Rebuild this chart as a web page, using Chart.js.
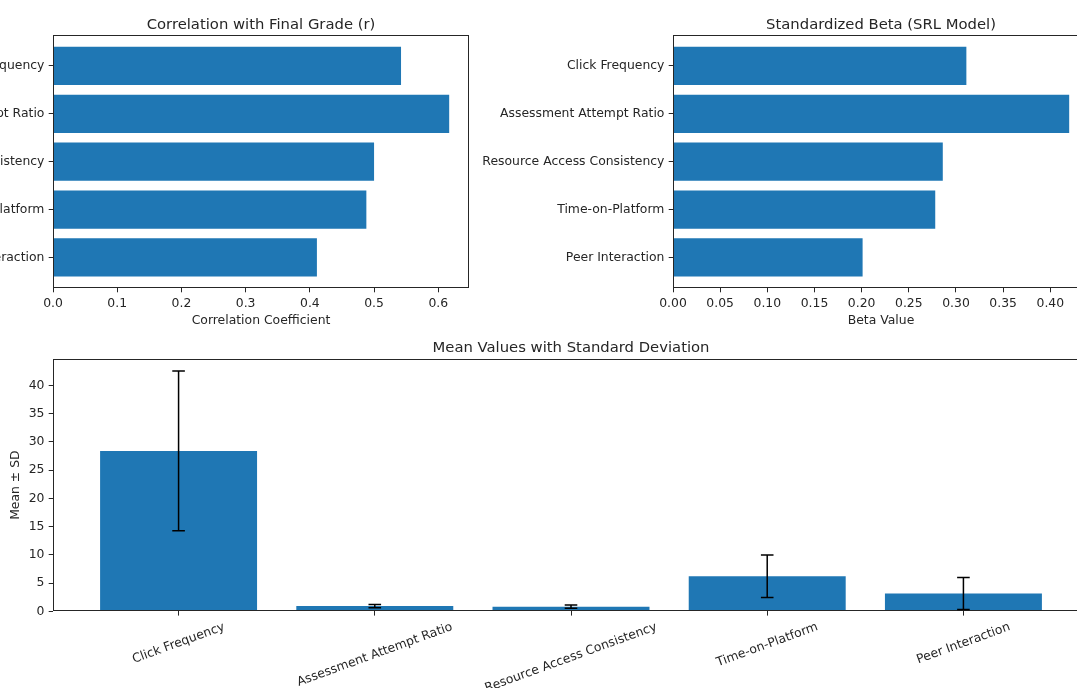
<!DOCTYPE html>
<html>
<head>
<meta charset="utf-8">
<title>SRL feature summary</title>
<script src="https://cdn.jsdelivr.net/npm/chart.js@4.4.0/dist/chart.umd.min.js"></script>
<style>
  html, body { margin: 0; padding: 0; background: #fff; overflow: hidden; width: 1077px; height: 688px; }
  canvas { position: absolute; }
</style>
</head>
<body>
<canvas id="corr" width="490" height="330" style="left:0px;top:0px"></canvas>
<canvas id="beta" width="630" height="330" style="left:470px;top:0px"></canvas>
<canvas id="mean" width="1100" height="358" style="left:0px;top:330px"></canvas>
<script>
// ---- data ----
const features = ['Click Frequency', 'Assessment Attempt Ratio', 'Resource Access Consistency', 'Time-on-Platform', 'Peer Interaction'];
const correlations = [0.542, 0.617, 0.500, 0.488, 0.411];
const betas = [0.311, 0.420, 0.286, 0.278, 0.201];
const means = [28.4, 0.93, 0.82, 6.2, 3.15];
const sds = [14.15, 0.28, 0.28, 3.75, 2.85];

const corrTicks = [0, 0.1, 0.2, 0.3, 0.4, 0.5, 0.6];
const betaTicks = [0, 0.05, 0.10, 0.15, 0.20, 0.25, 0.30, 0.35, 0.40];
const meanTicks = [0, 5, 10, 15, 20, 25, 30, 35, 40];

// ---- styling ----
const FONT = "'DejaVu Sans', 'Liberation Sans', sans-serif";
const INK = '#262626';
const BAR = '#1f77b4';
const LABEL_SIZE = 12.4;
const TITLE_SIZE = 14.8;
const TICK_LEN = 4.3;

Chart.defaults.font.family = FONT;
Chart.defaults.font.size = LABEL_SIZE;
Chart.defaults.color = INK;

// category positions with a 5% margin around bars of width 0.8
const barWidth = 0.8;
const catSpan = (features.length - 1) + barWidth;
const catMin = -barWidth / 2 - 0.05 * catSpan;
const catMax = features.length - 1 + barWidth / 2 + 0.05 * catSpan;
const catIndex = features.map((_, i) => i);

const fixedTicks = values => axis => { axis.ticks = values.map(v => ({ value: v })); };

const tickGrid = { display: true, offset: false, drawOnChartArea: false, drawTicks: true, tickLength: TICK_LEN, color: INK, lineWidth: 1 };

// full box around the plotting area
const framePlugin = {
  id: 'frame',
  afterDatasetsDraw(chart) {
    const { ctx, chartArea: a } = chart;
    const l = Math.round(a.left) + 0.5, t = Math.round(a.top) + 0.5;
    const r = Math.round(a.right) - 0.5, b = Math.round(a.bottom) - 0.5;
    ctx.save();
    ctx.strokeStyle = INK;
    ctx.lineWidth = 1;
    ctx.strokeRect(l, t, r - l, b - t);
    ctx.restore();
  }
};

const titleOpts = (text, top, bottom) => ({
  display: true, text, fullSize: false, color: INK,
  font: { size: TITLE_SIZE, family: FONT, weight: 'normal' },
  padding: { top, bottom }
});

function horizontalBars(id, values, title, xTitle, xTicks, digits, yWidth, padRight) {
  return new Chart(document.getElementById(id), {
    type: 'bar',
    data: {
      datasets: [{
        data: values.map((v, i) => ({ x: v, y: i })),
        backgroundColor: BAR,
        borderWidth: 0,
        categoryPercentage: barWidth,
        barPercentage: 1
      }]
    },
    options: {
      indexAxis: 'y',
      responsive: false,
      animation: false,
      layout: { padding: { left: 0, right: padRight, top: 0, bottom: 0 } },
      plugins: {
        legend: { display: false },
        tooltip: { enabled: false },
        title: titleOpts(title, 16.2, 1.4)
      },
      scales: {
        x: {
          type: 'linear',
          offset: false,
          min: 0,
          max: Math.max(...values) * 1.05,
          afterBuildTicks: fixedTicks(xTicks),
          ticks: { callback: v => Number(v).toFixed(digits), padding: 3.6, maxRotation: 0, autoSkip: false },
          grid: tickGrid,
          border: { display: false },
          title: { display: true, text: xTitle, color: INK, font: { size: LABEL_SIZE }, padding: { top: 0, bottom: 2 } },
          afterFit: s => { s.height = 42; }
        },
        y: {
          type: 'linear',
          offset: false,
          reverse: true,
          min: catMin,
          max: catMax,
          afterBuildTicks: fixedTicks(catIndex),
          ticks: { callback: v => features[v], padding: 4.3, autoSkip: false },
          grid: tickGrid,
          border: { display: false },
          afterFit: s => { s.width = yWidth; }
        }
      }
    },
    plugins: [framePlugin]
  });
}

horizontalBars('corr', correlations, 'Correlation with Final Grade (r)', 'Correlation Coefficient', corrTicks, 1, 53, 21);
horizontalBars('beta', betas, 'Standardized Beta (SRL Model)', 'Beta Value', betaTicks, 2, 203, 11);

// mean ± SD error bars drawn through the chart's own scales
const errorBarPlugin = {
  id: 'errorBars',
  afterDatasetsDraw(chart) {
    const { ctx, scales: { x, y } } = chart;
    const cap = 6.3;
    ctx.save();
    ctx.strokeStyle = '#000';
    ctx.lineWidth = 1.5;
    means.forEach((m, i) => {
      const cx = x.getPixelForValue(i);
      const hi = y.getPixelForValue(m + sds[i]);
      const lo = y.getPixelForValue(m - sds[i]);
      ctx.beginPath();
      ctx.moveTo(cx, hi); ctx.lineTo(cx, lo);
      ctx.moveTo(cx - cap, hi); ctx.lineTo(cx + cap, hi);
      ctx.moveTo(cx - cap, lo); ctx.lineTo(cx + cap, lo);
      ctx.stroke();
    });
    ctx.restore();
  }
};

// category names under the x axis, slanted and centred on their ticks
const slantedLabels = {
  id: 'slantedLabels',
  afterDraw(chart) {
    const { ctx, scales: { x }, chartArea } = chart;
    const ang = 20 * Math.PI / 180;
    const textH = LABEL_SIZE * 1.16;
    const top = chartArea.bottom + TICK_LEN + 4.3;
    ctx.save();
    ctx.font = `${LABEL_SIZE}px ${FONT}`;
    ctx.fillStyle = INK;
    ctx.textAlign = 'center';
    ctx.textBaseline = 'middle';
    features.forEach((label, i) => {
      const w = ctx.measureText(label).width;
      const boxH = w * Math.sin(ang) + textH * Math.cos(ang);
      ctx.save();
      ctx.translate(x.getPixelForValue(i), top + boxH / 2);
      ctx.rotate(-ang);
      ctx.fillText(label, 0, 0);
      ctx.restore();
    });
    ctx.restore();
  }
};

new Chart(document.getElementById('mean'), {
  type: 'bar',
  data: {
    datasets: [{
      data: means.map((m, i) => ({ x: i, y: m })),
      backgroundColor: BAR,
      borderWidth: 0,
      categoryPercentage: barWidth,
      barPercentage: 1
    }]
  },
  options: {
    responsive: false,
    animation: false,
    layout: { padding: { left: 0, right: 11, top: 0, bottom: 0 } },
    plugins: {
      legend: { display: false },
      tooltip: { enabled: false },
      title: titleOpts('Mean Values with Standard Deviation', 9.1, 2.1)
    },
    scales: {
      x: {
        type: 'linear',
        offset: false,
        min: catMin,
        max: catMax,
        afterBuildTicks: fixedTicks(catIndex),
        ticks: { display: false },
        grid: tickGrid,
        border: { display: false },
        afterFit: s => { s.height = 76.7; }
      },
      y: {
        type: 'linear',
        offset: false,
        min: 0,
        max: Math.max(...means.map((m, i) => m + sds[i])) * 1.05,
        afterBuildTicks: fixedTicks(meanTicks),
        ticks: { callback: v => String(v), padding: 4.3, autoSkip: false },
        grid: tickGrid,
        border: { display: false },
        title: { display: true, text: 'Mean ± SD', color: INK, font: { size: LABEL_SIZE }, padding: { top: 8, bottom: 0 } },
        afterFit: s => { s.width = 53; }
      }
    }
  },
  plugins: [framePlugin, errorBarPlugin, slantedLabels]
});
</script>
</body>
</html>
